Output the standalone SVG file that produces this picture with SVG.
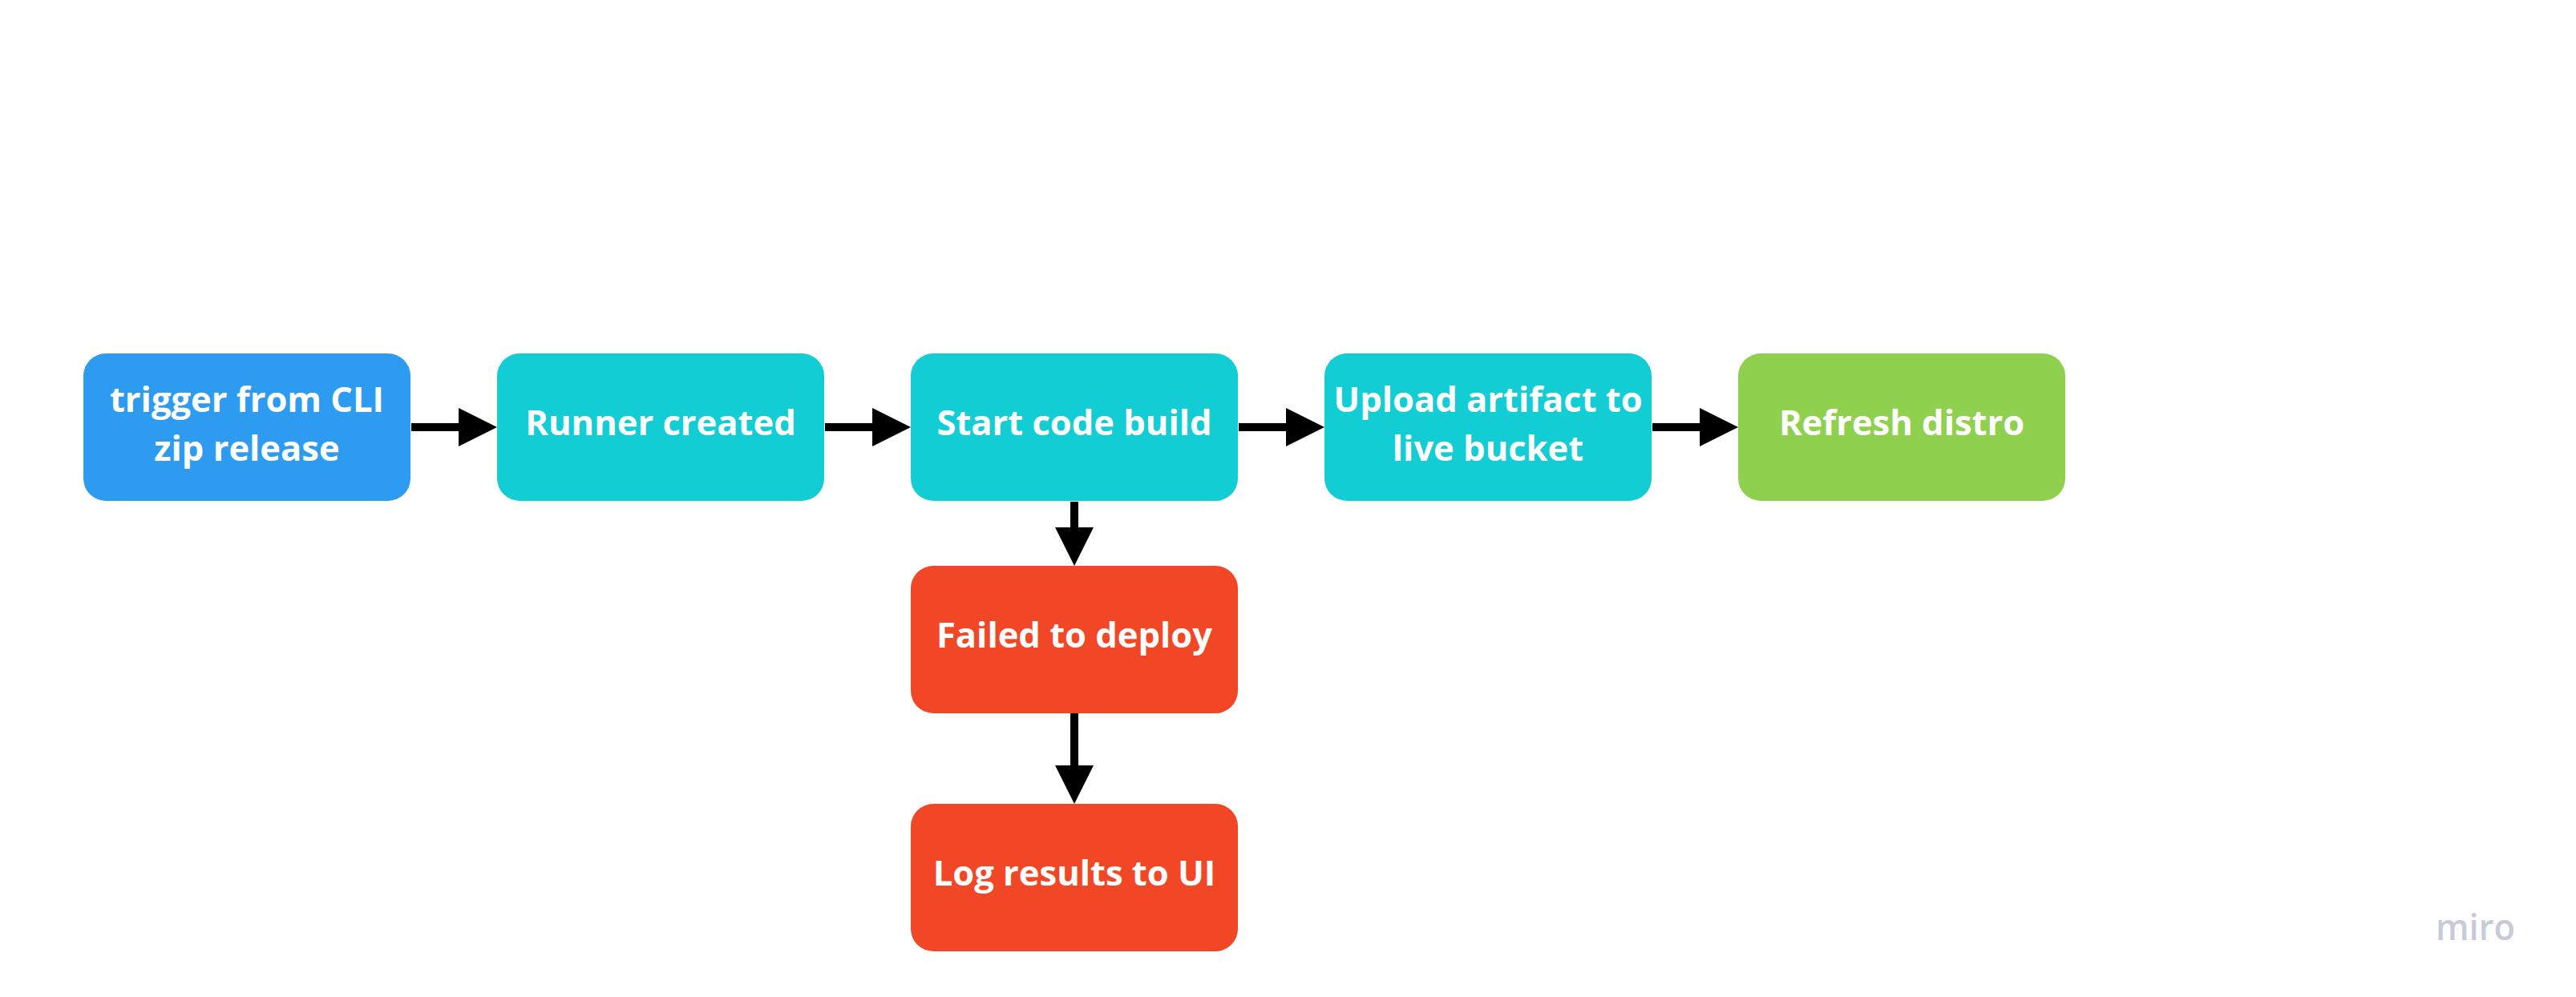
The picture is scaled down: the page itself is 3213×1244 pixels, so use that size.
<svg xmlns="http://www.w3.org/2000/svg" width="3213" height="1244" viewBox="0 0 3213 1244">
<style>
.node rect { rx: 28px; ry: 28px; }
.blue { fill: #2D9BF0; }
.cyan { fill: #12CDD4; }
.green { fill: #8FD14F; }
.red { fill: #F24726; }
.lbl { font-family: "Open Sans", "Liberation Sans", sans-serif; font-weight: 700; font-size: 43.5px; fill: #FFFFFF; text-anchor: middle; }
.edge { stroke: #000000; stroke-width: 10; fill: none; marker-end: url(#arrow); }
.wm { font-family: "Open Sans", "Liberation Sans", sans-serif; font-weight: 600; font-size: 46px; fill: #C9CAD9; }
</style>
<defs>
<marker id="arrow" viewBox="0 0 48 48" refX="0" refY="24" markerWidth="48" markerHeight="48" markerUnits="userSpaceOnUse" orient="auto">
<path d="M0,0 L48,24 L0,48 Z" fill="#000000"/>
</marker>
</defs>
<rect width="3213" height="1244" fill="#FFFFFF"/>
<g id="connectors">
<line class="edge" x1="513" y1="533" x2="572" y2="533"/>
<line class="edge" x1="1029" y1="533" x2="1088" y2="533"/>
<line class="edge" x1="1545" y1="533" x2="1604" y2="533"/>
<line class="edge" x1="2061" y1="533" x2="2120" y2="533"/>
<line class="edge" x1="1340" y1="626" x2="1340" y2="658"/>
<line class="edge" x1="1340" y1="890" x2="1340" y2="955"/>
</g>
<g id="node-trigger" class="node">
<rect class="blue" x="104" y="441" width="408" height="184"/>
<text class="lbl" x="308" y="514">trigger from CLI</text>
<text class="lbl" x="308" y="575">zip release</text>
</g>
<g id="node-runner" class="node">
<rect class="cyan" x="620" y="441" width="408" height="184"/>
<text class="lbl" x="824" y="543">Runner created</text>
</g>
<g id="node-build" class="node">
<rect class="cyan" x="1136" y="441" width="408" height="184"/>
<text class="lbl" x="1340" y="543">Start code build</text>
</g>
<g id="node-upload" class="node">
<rect class="cyan" x="1652" y="441" width="408" height="184"/>
<text class="lbl" x="1856" y="514">Upload artifact to</text>
<text class="lbl" x="1856" y="575">live bucket</text>
</g>
<g id="node-refresh" class="node">
<rect class="green" x="2168" y="441" width="408" height="184"/>
<text class="lbl" x="2372" y="543">Refresh distro</text>
</g>
<g id="node-failed" class="node">
<rect class="red" x="1136" y="706" width="408" height="184"/>
<text class="lbl" x="1340" y="808">Failed to deploy</text>
</g>
<g id="node-log" class="node">
<rect class="red" x="1136" y="1003" width="408" height="184"/>
<text class="lbl" x="1340" y="1105">Log results to UI</text>
</g>
<text class="wm" x="3038" y="1173" textLength="99" lengthAdjust="spacingAndGlyphs">miro</text>
</svg>
